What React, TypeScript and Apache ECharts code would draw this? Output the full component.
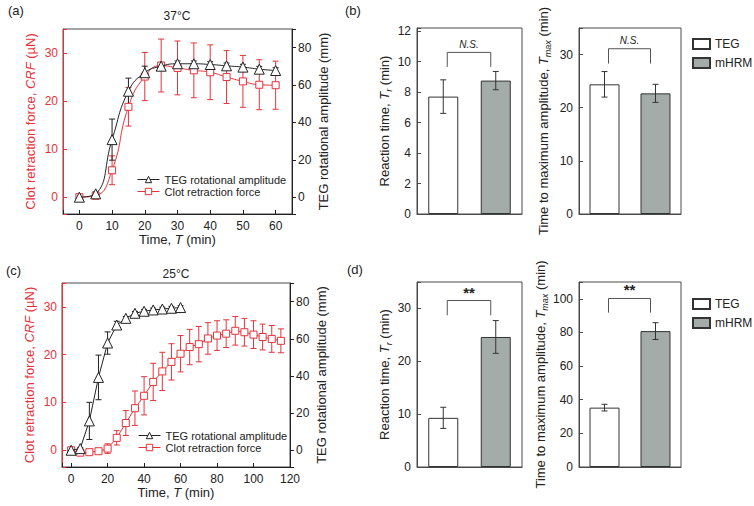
import React, { useEffect, useRef } from 'react';
import * as echarts from 'echarts';

const RED = '#e5333b';
const INK = '#222222';
const BOX = '#4a4a4a';
const GRAY = '#a4aca9';
const FONT = '"Liberation Sans", Arial, Helvetica, sans-serif';

// (a) 37 °C
const timeA = [0, 5, 10, 15, 20, 25, 30, 35, 40, 45, 50, 55, 60];
const tegA = [0, 1.8, 30.8, 56.7, 66.6, 70.1, 71.4, 71.4, 71.0, 70.3, 69.6, 68.5, 67.8];
const tegAErr = [0.5, 1, 11, 7, 3.5, 2, 1.5, 1.5, 1.5, 1.5, 1.5, 1.5, 1.5];
const crfA = [0, 0.3, 5.6, 18.8, 25.1, 27.4, 26.9, 26.4, 26.0, 25.0, 24.1, 23.4, 23.3];
const crfAErr = [0.3, 0.5, 3, 4, 5, 5.5, 5.6, 5.7, 5.7, 5.5, 5.4, 5.2, 5];

// (c) 25 °C
const timeTegC = [0, 5, 10, 15, 20, 25, 30, 35, 40, 45, 50, 55, 60];
const tegC = [0, 0.9, 15.8, 39.2, 57.7, 67.4, 71.0, 73.7, 74.8, 75.5, 76.0, 76.4, 76.8];
const tegCErr = [0.5, 0.5, 10, 12, 6, 2, 1, 1, 1, 1, 1, 1, 1];
const timeCrfC = [0, 5, 10, 15, 20, 25, 30, 35, 40, 45, 50, 55, 60, 65, 70, 75, 80, 85, 90, 95, 100, 105, 110, 115];
const crfC = [0, -0.5, -0.4, -0.2, 0.35, 2.6, 5.7, 8.8, 11.4, 14.3, 16.5, 18.5, 20.2, 21.6, 22.2, 23.4, 24.0, 24.4, 25.0, 24.7, 24.2, 23.7, 23.3, 22.9];
const crfCErr = [0.3, 0.4, 0.4, 0.4, 1, 1.5, 2.6, 3.6, 4, 3.9, 4, 3.8, 3.8, 3.7, 3.7, 3.3, 3.1, 2.9, 3, 2.9, 2.9, 2.7, 2.8, 2.5];

// (b), (d) bar charts
const groups = ['TEG', 'mHRM'];
const reactionB = [7.7, 8.75];
const reactionBErr = [1.1, 0.6];
const tmaxB = [24.4, 22.7];
const tmaxBErr = [2.4, 1.7];
const reactionD = [9.3, 24.6];
const reactionDErr = [2.0, 3.1];
const tmaxD = [35.3, 80.8];
const tmaxDErr = [2.0, 5.0];

const nameRich = (color: string) => ({
  n: { fontSize: 13, color, fontFamily: FONT, fontWeight: 'normal', lineHeight: 18 },
  i: { fontSize: 13, color, fontFamily: FONT, fontWeight: 'normal', fontStyle: 'italic', lineHeight: 18 },
  s: { fontSize: 9, color, fontFamily: FONT, fontWeight: 'normal', fontStyle: 'italic', verticalAlign: 'bottom', lineHeight: 10 },
});

const timeAxis = (gridIndex: number, max: number, step: number) => ({
  type: 'value', gridIndex, min: -5, max, minInterval: step, maxInterval: step,
  axisLine: { show: true, onZero: false, lineStyle: { color: INK } },
  axisTick: { show: true, inside: true, length: 4, lineStyle: { color: INK } },
  axisLabel: { color: INK, fontSize: 12, margin: 6, formatter: (v: number) => (v % step === 0 ? String(v) : '') },
  splitLine: { show: false },
  name: '{n|Time, }{i|T}{n| (min)}', nameLocation: 'middle', nameGap: 16,
  nameTextStyle: { fontWeight: 'normal', fontSize: 13, color: INK, rich: nameRich(INK) },
});

const crfAxis = (gridIndex: number) => ({
  type: 'value', gridIndex, position: 'left', min: -3.5, max: 35, minInterval: 10, maxInterval: 10,
  axisLine: { show: true, onZero: false, lineStyle: { color: RED } },
  axisTick: { show: true, inside: true, length: 4, lineStyle: { color: RED } },
  axisLabel: { color: RED, fontSize: 12, margin: 5, formatter: (v: number) => (v % 10 === 0 ? String(v) : '') },
  splitLine: { show: false },
  name: '{n|Clot retraction force, }{i|CRF}{n| (µN)}', nameLocation: 'middle', nameRotate: 90, nameGap: 24,
  nameTextStyle: { fontWeight: 'normal', fontSize: 13, color: RED, rich: nameRich(RED) },
});

const tegAxis = (gridIndex: number) => ({
  type: 'value', gridIndex, position: 'right', min: -9, max: 90, minInterval: 20, maxInterval: 20,
  axisLine: { show: true, onZero: false, lineStyle: { color: INK } },
  axisTick: { show: true, inside: false, length: 4, lineStyle: { color: INK } },
  axisLabel: { color: INK, fontSize: 12, margin: 6, formatter: (v: number) => (v % 20 === 0 ? String(v) : '') },
  splitLine: { show: false },
  name: 'TEG rotational amplitude (mm)', nameLocation: 'middle', nameRotate: 90, nameGap: 25,
  nameTextStyle: { fontSize: 13, color: INK, fontWeight: 'normal' },
});

const catAxis = (gridIndex: number) => ({
  type: 'category', gridIndex, data: groups,
  axisLine: { show: true, lineStyle: { color: BOX } },
  axisTick: { show: false }, axisLabel: { show: false },
});

const barYAxis = (gridIndex: number, max: number, step: number, name: string, gap: number) => ({
  type: 'value', gridIndex, min: 0, max, interval: step,
  axisLine: { show: true, lineStyle: { color: BOX } },
  axisTick: { show: true, inside: true, length: 4, lineStyle: { color: BOX } },
  axisLabel: { color: INK, fontSize: 12, margin: 6, formatter: (v: number) => (Math.abs(v % step) < 1e-6 ? String(v) : '') },
  splitLine: { show: false },
  name, nameLocation: 'middle', nameRotate: 90, nameGap: gap,
  nameTextStyle: { fontWeight: 'normal', fontSize: 13, color: INK, rich: nameRich(INK) },
});

const errSeries = (xi: number, yi: number, xs: number[], means: number[], errs: number[], color: string, z: number) => ({
  type: 'custom', xAxisIndex: xi, yAxisIndex: yi, z, silent: true,
  data: xs.map((x, i) => [x, means[i] - errs[i], means[i] + errs[i]]),
  renderItem: (_p: any, api: any) => {
    const x = api.value(0);
    const top = api.coord([x, api.value(2)]);
    const bot = api.coord([x, api.value(1)]);
    const w = 3;
    const style = { stroke: color, lineWidth: 1 };
    return {
      type: 'group',
      children: [
        { type: 'line', shape: { x1: top[0], y1: top[1], x2: bot[0], y2: bot[1] }, style },
        { type: 'line', shape: { x1: top[0] - w, y1: top[1], x2: top[0] + w, y2: top[1] }, style },
        { type: 'line', shape: { x1: bot[0] - w, y1: bot[1], x2: bot[0] + w, y2: bot[1] }, style },
      ],
    };
  },
});

const bracketSeries = (xi: number, yi: number, level: number, drop: number, label: string, italic: boolean) => ({
  type: 'custom', xAxisIndex: xi, yAxisIndex: yi, z: 5, silent: true,
  data: [[0, level, drop]],
  renderItem: (_p: any, api: any) => {
    const l = api.coord([0, api.value(1)]);
    const r = api.coord([1, api.value(1)]);
    const d = api.coord([0, api.value(2)]);
    const x1 = l[0] + 4;
    const x2 = r[0] - 5;
    return {
      type: 'group',
      children: [
        {
          type: 'polyline',
          shape: { points: [[x1, d[1]], [x1, l[1]], [x2, l[1]], [x2, d[1]]] },
          style: { stroke: '#555', fill: 'none', lineWidth: 1 },
        },
        {
          type: 'text', x: (x1 + x2) / 2, y: l[1] - (italic ? 3 : 1),
          style: {
            text: label, align: 'center', verticalAlign: 'bottom', textAlign: 'center', textVerticalAlign: 'bottom',
            fontSize: italic ? 10 : 15, fontStyle: italic ? 'italic' : 'normal', fontWeight: italic ? 'normal' : 'bold',
            fontFamily: FONT, fill: INK,
          },
        },
      ],
    };
  },
});

const barPair = (xi: number, yi: number, vals: number[]) => [
  {
    type: 'bar', name: groups[0], xAxisIndex: xi, yAxisIndex: yi, data: [vals[0], '-'], barWidth: 30, barGap: '-100%',
    itemStyle: { color: '#ffffff', borderColor: '#333', borderWidth: 1 }, z: 2,
  },
  {
    type: 'bar', name: groups[1], xAxisIndex: xi, yAxisIndex: yi, data: ['-', vals[1]], barWidth: 30, barGap: '-100%',
    itemStyle: { color: GRAY, borderColor: '#333', borderWidth: 1 }, z: 2,
  },
];

const tegLine = (xi: number, yi: number, xs: number[], ys: number[], smooth: boolean) => ({
  type: 'line', name: 'TEG rotational amplitude', xAxisIndex: xi, yAxisIndex: yi,
  data: xs.map((x, i) => [x, ys[i]]), smooth, symbol: 'triangle', symbolSize: 10, showSymbol: true, showAllSymbol: true,
  lineStyle: { color: INK, width: 1 }, itemStyle: { color: '#ffffff', borderColor: INK, borderWidth: 1 }, z: 4,
});

const crfLine = (xi: number, yi: number, xs: number[], ys: number[], smooth: boolean) => ({
  type: 'line', name: 'Clot retraction force', xAxisIndex: xi, yAxisIndex: yi,
  data: xs.map((x, i) => [x, ys[i]]), smooth, symbol: 'rect', symbolSize: 7, showSymbol: true, showAllSymbol: true,
  lineStyle: { color: RED, width: 1 }, itemStyle: { color: '#ffffff', borderColor: RED, borderWidth: 1 }, z: 3,
});

const lineLegend = (left: number, top: number) => ({
  data: [
    {
      name: 'TEG rotational amplitude',
      itemStyle: { color: '#ffffff', borderColor: INK, borderWidth: 1 },
      lineStyle: { color: INK, width: 1 },
    },
    {
      name: 'Clot retraction force',
      itemStyle: { color: '#ffffff', borderColor: RED, borderWidth: 1 },
      lineStyle: { color: RED, width: 1 },
    },
  ],
  orient: 'vertical', left, top, padding: 0,
  itemWidth: 22, itemHeight: 8, itemGap: 1, selectedMode: false,
  textStyle: { fontSize: 11, color: INK, fontFamily: FONT, fontWeight: 'normal' },
});

const barLegend = (top: number) => ({
  data: groups, orient: 'vertical', left: 692, top, padding: 0, icon: 'rect',
  itemWidth: 17, itemHeight: 10, itemGap: 7, selectedMode: false,
  textStyle: { fontSize: 12, color: INK, fontFamily: FONT, fontWeight: 'normal' },
});

const gridBox = (left: number, top: number, width: number, height: number) => ({
  left, top, width, height, show: true, borderColor: BOX, borderWidth: 1, outerBoundsMode: 'none',
});

const title = (text: string, left: number, top: number, align: string, size: number) => ({
  text, left, top, textAlign: align, padding: 0,
  textStyle: { fontSize: size, fontWeight: 'normal', color: INK, fontFamily: FONT },
});

function buildOption() {
  return {
    animation: false,
    backgroundColor: '#ffffff',
    textStyle: { fontFamily: FONT, fontWeight: 'normal' },
    title: [
      title('(a)', 8, 4, 'left', 13),
      title('(b)', 345, 4, 'left', 13),
      title('(c)', 6, 264, 'left', 13),
      title('(d)', 347, 263, 'left', 13),
      title('37°C', 177, 10, 'center', 12),
      title('25°C', 176, 268, 'center', 12),
    ],
    legend: [lineLegend(137, 174), lineLegend(138, 430), barLegend(38), barLegend(298)],
    grid: [
      gridBox(63, 29, 229, 185),
      gridBox(62, 283, 228, 184),
      gridBox(417, 28, 105, 186),
      gridBox(579, 28, 102, 186),
      gridBox(417, 282, 105, 185),
      gridBox(579, 282, 102, 185),
    ],
    xAxis: [
      timeAxis(0, 65, 10),
      timeAxis(1, 120, 20),
      catAxis(2),
      catAxis(3),
      catAxis(4),
      catAxis(5),
    ],
    yAxis: [
      crfAxis(0),
      tegAxis(0),
      crfAxis(1),
      tegAxis(1),
      barYAxis(2, 12.2, 2, '{n|Reaction time, }{i|T}{s|r}{n| (min)}', 17),
      barYAxis(3, 35, 10, '{n|Time to maximum amplitude, }{i|T}{s|max}{n| (min)}', 27),
      barYAxis(4, 35, 10, '{n|Reaction time, }{i|T}{s|r}{n| (min)}', 17),
      barYAxis(5, 110, 20, '{n|Time to maximum amplitude, }{i|T}{s|max}{n| (min)}', 30),
    ],
    series: [
      // (a)
      errSeries(0, 0, timeA, crfA, crfAErr, RED, 1),
      errSeries(0, 1, timeA, tegA, tegAErr, INK, 1),
      crfLine(0, 0, timeA, crfA, true),
      tegLine(0, 1, timeA, tegA, true),
      // (c)
      errSeries(1, 2, timeCrfC, crfC, crfCErr, RED, 1),
      errSeries(1, 3, timeTegC, tegC, tegCErr, INK, 1),
      crfLine(1, 2, timeCrfC, crfC, false),
      tegLine(1, 3, timeTegC, tegC, false),
      // (b)
      ...barPair(2, 4, reactionB),
      errSeries(2, 4, [0, 1], reactionB, reactionBErr, '#333', 4),
      bracketSeries(2, 4, 10.6, 9.65, 'N.S.', true),
      ...barPair(3, 5, tmaxB),
      errSeries(3, 5, [0, 1], tmaxB, tmaxBErr, '#333', 4),
      bracketSeries(3, 5, 31.1, 28.3, 'N.S.', true),
      // (d)
      ...barPair(4, 6, reactionD),
      errSeries(4, 6, [0, 1], reactionD, reactionDErr, '#333', 4),
      bracketSeries(4, 6, 31.5, 28.7, '**', false),
      ...barPair(5, 7, tmaxD),
      errSeries(5, 7, [0, 1], tmaxD, tmaxDErr, '#333', 4),
      bracketSeries(5, 7, 100.2, 91.8, '**', false),
    ],
  };
}

export default function App() {
  const ref = useRef<HTMLDivElement>(null);
  useEffect(() => {
    if (!ref.current) return;
    const chart = echarts.init(ref.current, null, { renderer: 'svg' });
    chart.setOption(buildOption() as any);
    return () => chart.dispose();
  }, []);
  return (
    <div
      ref={ref}
      style={{ position: 'absolute', left: 0, top: 0, width: 754, height: 506, background: '#fff' }}
    />
  );
}
